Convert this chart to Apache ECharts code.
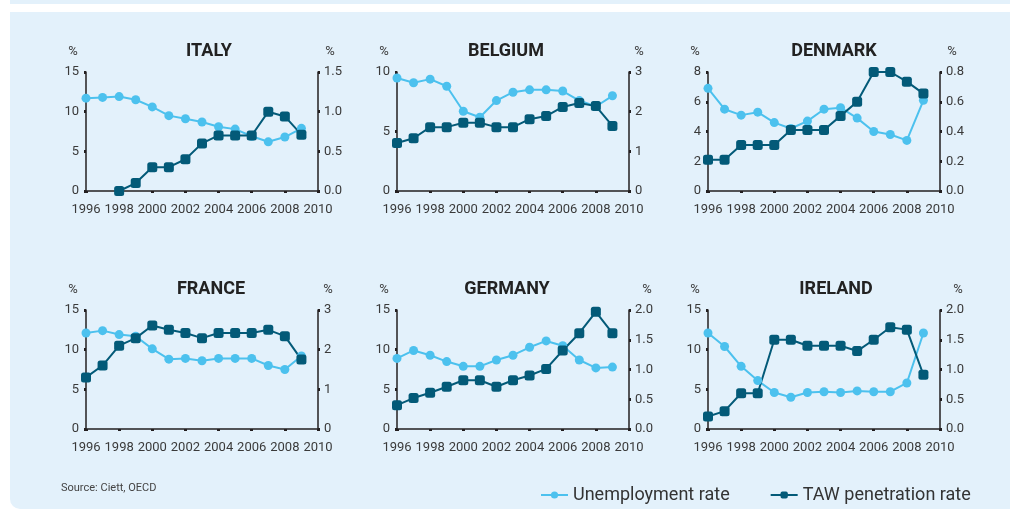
<!DOCTYPE html>
<html>
<head>
<meta charset="utf-8">
<script src="https://cdn.jsdelivr.net/npm/echarts@6/dist/echarts.min.js"></script>
<style>
html, body { margin: 0; padding: 0; background: #fff; }
#chart { width: 1010px; height: 510px; }
</style>
</head>
<body>
<div id="chart"></div>
<script>
// 年份
const years = [1996, 1997, 1998, 1999, 2000, 2001, 2002, 2003, 2004, 2005, 2006, 2007, 2008, 2009]

const italyUnemp = [11.7, 11.8, 11.9, 11.5, 10.6, 9.5, 9.1, 8.7, 8.1, 7.8, 6.9, 6.2, 6.8, 7.9]
const italyTaw = [null, null, 0.0, 0.1, 0.3, 0.3, 0.4, 0.6, 0.7, 0.7, 0.7, 1.0, 0.94, 0.71]

const belgiumUnemp = [9.5, 9.1, 9.4, 8.8, 6.7, 6.2, 7.6, 8.3, 8.5, 8.5, 8.4, 7.6, 7.1, 8.0]
const belgiumTaw = [1.21, 1.33, 1.61, 1.61, 1.72, 1.72, 1.61, 1.61, 1.81, 1.89, 2.12, 2.22, 2.14, 1.64]

const denmarkUnemp = [6.9, 5.5, 5.1, 5.3, 4.6, 4.2, 4.7, 5.5, 5.6, 4.9, 4.0, 3.8, 3.4, 6.1]
const denmarkTaw = [0.21, 0.21, 0.31, 0.31, 0.31, 0.41, 0.41, 0.41, 0.505, 0.6, 0.8, 0.8, 0.735, 0.655]

const franceUnemp = [12.1, 12.4, 11.9, 11.7, 10.1, 8.8, 8.9, 8.6, 8.9, 8.9, 8.9, 8.0, 7.5, 9.2]
const franceTaw = [1.3, 1.6, 2.1, 2.29, 2.61, 2.5, 2.42, 2.29, 2.42, 2.42, 2.42, 2.5, 2.34, 1.75]

const germanyUnemp = [8.9, 9.9, 9.3, 8.5, 7.9, 7.9, 8.7, 9.3, 10.3, 11.1, 10.5, 8.7, 7.7, 7.8]
const germanyTaw = [0.4, 0.52, 0.61, 0.71, 0.82, 0.82, 0.71, 0.82, 0.9, 1.01, 1.32, 1.61, 1.97, 1.61]

const irelandUnemp = [12.1, 10.4, 7.9, 6.1, 4.6, 4.0, 4.6, 4.7, 4.6, 4.8, 4.7, 4.7, 5.8, 12.1]
const irelandTaw = [0.21, 0.3, 0.6, 0.6, 1.5, 1.5, 1.4, 1.4, 1.4, 1.31, 1.5, 1.71, 1.67, 0.91]

const UNEMP_NAME = 'Unemployment rate'
const TAW_NAME = 'TAW penetration rate'
const UNEMP_COLOR = '#4cc1ee'
const TAW_COLOR = '#035a78'
const AXIS_COLOR = '#231f20'
const TEXT_COLOR = '#3a3a3a'

const panels = [
    { name: 'ITALY', unemp: italyUnemp, taw: italyTaw, lMax: 15, lStep: 5, rMax: 1.5, rStep: 0.5, rDigits: 1, col: 0, row: 0, titleX: 209 },
    { name: 'BELGIUM', unemp: belgiumUnemp, taw: belgiumTaw, lMax: 10, lStep: 5, rMax: 3, rStep: 1, rDigits: 0, col: 1, row: 0, titleX: 506 },
    { name: 'DENMARK', unemp: denmarkUnemp, taw: denmarkTaw, lMax: 8, lStep: 2, rMax: 0.8, rStep: 0.2, rDigits: 1, col: 2, row: 0, titleX: 834 },
    { name: 'FRANCE', unemp: franceUnemp, taw: franceTaw, lMax: 15, lStep: 5, rMax: 3, rStep: 1, rDigits: 0, col: 0, row: 1, titleX: 211 },
    { name: 'GERMANY', unemp: germanyUnemp, taw: germanyTaw, lMax: 15, lStep: 5, rMax: 2, rStep: 0.5, rDigits: 1, col: 1, row: 1, titleX: 507 },
    { name: 'IRELAND', unemp: irelandUnemp, taw: irelandTaw, lMax: 15, lStep: 5, rMax: 2, rStep: 0.5, rDigits: 1, col: 2, row: 1, titleX: 836 },
]

const GRID_LEFT = [86, 397, 708]
const GRID_TOP = [72, 310]
const GRID_W = 232
const GRID_H = 119
const FONT = 'Roboto, "DejaVu Sans", sans-serif'

const toPairs = (vals) => years.map((y, i) => [y, vals[i]])

const tickStyle = { show: true, length: 2, lineStyle: { color: AXIS_COLOR, width: 3 } }
const lineStyle = { show: true, lineStyle: { color: AXIS_COLOR, width: 1.5 } }

let grids = [], xAxes = [], yAxes = [], series = [], texts = []

panels.forEach((p, i) => {
    const left = GRID_LEFT[p.col]
    const top = GRID_TOP[p.row]
    grids.push({ left, top, width: GRID_W, height: GRID_H })
    xAxes.push({
        gridIndex: i, type: 'value', min: 1996, max: 2010, interval: 2,
        axisLine: lineStyle, axisTick: tickStyle, splitLine: { show: false },
        axisLabel: { color: TEXT_COLOR, fontSize: 13, fontFamily: FONT, margin: 12, formatter: (v) => String(v) },
    })
    yAxes.push({
        gridIndex: i, type: 'value', position: 'left', min: 0, max: p.lMax, interval: p.lStep,
        axisLine: lineStyle, axisTick: tickStyle, splitLine: { show: false },
        axisLabel: { color: TEXT_COLOR, fontSize: 13, fontFamily: FONT, margin: 7 },
    })
    yAxes.push({
        gridIndex: i, type: 'value', position: 'right', min: 0, max: p.rMax, interval: p.rStep,
        axisLine: lineStyle, axisTick: tickStyle, splitLine: { show: false },
        axisLabel: {
            color: TEXT_COLOR, fontSize: 13, fontFamily: FONT, margin: 6,
            formatter: (v) => v.toFixed(p.rDigits),
        },
    })
    series.push({
        name: UNEMP_NAME, type: 'line', xAxisIndex: i, yAxisIndex: 2 * i,
        data: toPairs(p.unemp), symbol: 'circle', symbolSize: 9,
        itemStyle: { color: UNEMP_COLOR }, lineStyle: { color: UNEMP_COLOR, width: 2 },
        animation: false,
    })
    series.push({
        name: TAW_NAME, type: 'line', xAxisIndex: i, yAxisIndex: 2 * i + 1,
        data: toPairs(p.taw), symbol: 'roundRect', symbolSize: 10,
        itemStyle: { color: TAW_COLOR }, lineStyle: { color: TAW_COLOR, width: 2 },
        animation: false,
    })

    // 标题和%单位
    texts.push({
        type: 'text', x: p.titleX, y: top - 21,
        style: { text: p.name, font: `bold 18px ${FONT}`, fill: '#222', textAlign: 'center', textVerticalAlign: 'middle' },
    })
    texts.push({
        type: 'text', x: left - 13, y: top - 20,
        style: { text: '%', font: `13px ${FONT}`, fill: TEXT_COLOR, textAlign: 'center', textVerticalAlign: 'middle' },
    })
    texts.push({
        type: 'text', x: left + GRID_W + (p.rDigits ? 12 : 10) + (p.rMax === 2 ? 6 : 0), y: top - 20,
        style: { text: '%', font: `13px ${FONT}`, fill: TEXT_COLOR, textAlign: 'center', textVerticalAlign: 'middle' },
    })
})

const chart = echarts.init(document.getElementById('chart'))
chart.setOption({
    animation: false,
    graphic: [
        { type: 'rect', z: -10, shape: { x: 10, y: 0, width: 1000, height: 4 }, style: { fill: '#e3f1fb' } },
        { type: 'rect', z: -10, shape: { x: 10, y: 12, width: 1000, height: 497, r: [0, 0, 0, 10] }, style: { fill: '#e3f1fb' } },
        {
            type: 'text', x: 61, y: 488,
            style: { text: 'Source: Ciett, OECD', font: `11px ${FONT}`, fill: '#444', textVerticalAlign: 'middle' },
        },
        ...texts,
    ],
    legend: {
        data: [UNEMP_NAME, TAW_NAME],
        left: 535, top: 481, itemWidth: 27, itemHeight: 9, itemGap: 40,
        textStyle: { color: '#333', fontSize: 18, fontFamily: FONT },
    },
    grid: grids,
    xAxis: xAxes,
    yAxis: yAxes,
    series,
})
</script>
</body>
</html>
